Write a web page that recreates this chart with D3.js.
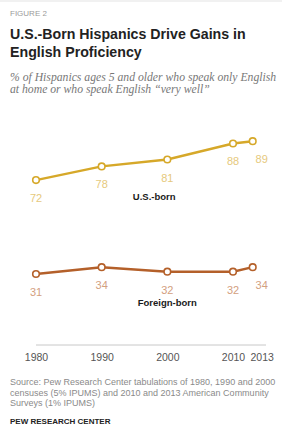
<!DOCTYPE html>
<html>
<head>
<meta charset="utf-8">
<script src="https://cdn.jsdelivr.net/npm/d3@7"></script>
<style>
  body { margin: 0; background: #fff; }
  svg { display: block; }
</style>
</head>
<body>
<div id="chart"></div>
<script>
const years = [1980, 1990, 2000, 2010, 2013];
const usBorn = [72, 78, 81, 88, 89];
const foreignBorn = [31, 34, 32, 32, 34];
const tickLabels = ["1980", "1990", "2000", "2010", "2013"];

const series = [
  { name: "U.S.-born", values: usBorn, line: "#d6a829", label: "#e6c97c", nameX: 1998, nameY: 63.5 },
  { name: "Foreign-born", values: foreignBorn, line: "#b4602a", label: "#d3a080", nameX: 2000, nameY: 17 },
];

const dimensions = { width: 282, height: 437 };

const svg = d3.select("#chart")
  .append("svg")
  .attr("width", dimensions.width)
  .attr("height", dimensions.height);

const sans = "'Liberation Sans', Arial, sans-serif";

// header
svg.append("line")
  .attr("x1", 0).attr("x2", 282).attr("y1", 1).attr("y2", 1)
  .attr("stroke", "#e3e3e3");

svg.append("text")
  .attr("x", 10).attr("y", 16)
  .attr("font-family", sans).attr("font-size", 8)
  .attr("fill", "#9a9a9a")
  .text("FIGURE 2");

const title = svg.append("text")
  .attr("font-family", sans).attr("font-size", 14.2).attr("font-weight", "bold")
  .attr("fill", "#222");
["U.S.-Born  Hispanics Drive Gains in", "English Proficiency"].forEach((t, i) => {
  title.append("tspan").attr("x", 10).attr("y", 39 + i * 18).text(t);
});

const sub = svg.append("text")
  .attr("font-family", "'Liberation Serif', 'DejaVu Serif', serif")
  .attr("font-style", "italic").attr("font-size", 11.7)
  .attr("fill", "#777");
["% of Hispanics ages 5 and older who speak only English", "at home or who speak English \u201cvery well\u201d"].forEach((t, i) => {
  sub.append("tspan").attr("x", 10).attr("y", 81 + i * 12).text(t);
});

// scales
const xScale = d3.scaleLinear()
  .domain([1980, 2010])
  .range([36, 233]);

const yScale = d3.scaleLinear()
  .domain([0, 100])
  .range([345, 116]);

// axis
const xAxis = svg.append("g")
  .attr("transform", `translate(0, 345)`)
  .call(d3.axisBottom(xScale).tickValues(years).tickFormat((d, i) => tickLabels[i]).tickSize(0).tickPadding(9));
xAxis.select(".domain").remove();
xAxis.append("line")
  .attr("x1", 36).attr("x2", 266)
  .attr("stroke", "#c8c8c8");
xAxis.selectAll("text")
  .attr("font-family", sans).attr("font-size", 10.5).attr("fill", "#555")
  .attr("dx", (d) => d === 2013 ? 9 : 0);

const lineGenerator = d3.line()
  .x((d, i) => xScale(years[i]))
  .y((d) => yScale(d));

series.forEach((s) => {
  const g = svg.append("g");
  g.append("path")
    .attr("d", lineGenerator(s.values))
    .attr("fill", "none")
    .attr("stroke", s.line)
    .attr("stroke-width", 2.5);
  g.selectAll("circle")
    .data(s.values)
    .join("circle")
    .attr("cx", (d, i) => xScale(years[i]))
    .attr("cy", (d) => yScale(d))
    .attr("r", 3.3)
    .attr("fill", "#fff")
    .attr("stroke", s.line)
    .attr("stroke-width", 1.6);
  g.selectAll("text.val")
    .data(s.values)
    .join("text")
    .attr("class", "val")
    .attr("x", (d, i) => xScale(years[i]) + (years[i] === 2013 ? 9 : 0))
    .attr("y", (d) => yScale(d) + 22)
    .attr("text-anchor", "middle")
    .attr("font-family", sans).attr("font-size", 11)
    .attr("fill", s.label)
    .text((d) => d);
  g.append("text")
    .attr("x", xScale(s.nameX))
    .attr("y", yScale(s.nameY))
    .attr("text-anchor", "middle")
    .attr("font-family", sans).attr("font-size", 9.5).attr("font-weight", "bold")
    .attr("fill", "#1a1a1a")
    .text(s.name);
});

// footer
const src = svg.append("text")
  .attr("font-family", sans).attr("font-size", 9)
  .attr("fill", "#8a8a8a");
["Source: Pew Research Center tabulations of 1980, 1990 and 2000",
 "censuses (5% IPUMS) and 2010 and 2013 American Community",
 "Surveys (1% IPUMS)"].forEach((t, i) => {
  src.append("tspan").attr("x", 10).attr("y", 385 + i * 10.5).text(t);
});

svg.append("text")
  .attr("x", 10).attr("y", 424)
  .attr("font-family", sans).attr("font-size", 8).attr("font-weight", "bold")
  .attr("fill", "#222")
  .text("PEW RESEARCH CENTER");
</script>
</body>
</html>
